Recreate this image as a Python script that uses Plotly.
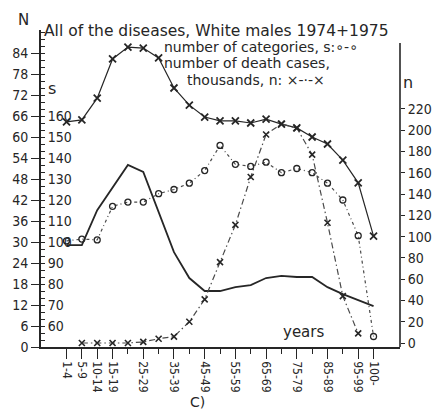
import plotly.graph_objects as go

# ---------------- data ----------------
categories = ["1-4", "5-9", "10-14", "15-19", "20-24", "25-29", "30-34", "35-39",
              "40-44", "45-49", "50-54", "55-59", "60-64", "65-69", "70-74",
              "75-79", "80-84", "85-89", "90-94", "95-99", "100-"]
labeled_categories = ["1-4", "5-9", "10-14", "15-19", "25-29", "35-39", "45-49",
                      "55-59", "65-69", "75-79", "85-89", "95-99", "100-"]

# upper solid curve with x markers (left N scale)
upper_curve = [64.3, 64.9, 71.1, 82.3, 85.7, 85.4, 82.6, 74.0, 69.1, 65.7, 64.6,
               64.6, 64.0, 65.1, 63.7, 62.6, 60.0, 58.0, 53.4, 46.9, 31.7]
# plain solid curve (left N scale)
N_values = [29.1, 29.1, 39.1, 45.4, 52.0, 50.0, 38.3, 27.1, 19.7, 16.0, 16.0,
            17.1, 17.7, 19.7, 20.3, 20.0, 20.0, 17.1, 15.1, 13.4, 11.7]
# number of categories, s (inner left scale)
s_values = [100.5, 101.4, 101.0, 117, 119, 119, 123, 125, 128, 134, 146, 137,
            136, 138, 133, 135, 133, 128, 120, 103, 55]
# number of death cases, thousands, n (right scale)
n_values = [None, 0, 0, 0, 0, 1, 4, 6, 20, 41, 76, 111, 156, 196, 206, 202,
            177, 113, 44, 9, None]

N_ticks = list(range(0, 85, 6))
s_ticks = list(range(60, 161, 10))
n_ticks = list(range(0, 221, 20))

# ---------------- layout geometry ----------------
W, H = 444, 413
ML, MR, MT, MB = 35, 29, 30, 66
PW, PH = W - ML - MR, H - MT - MB

def pxx(x):
    return (x - ML) / PW

def pyy(y):
    return (H - MB - y) / PH

idx = list(range(len(categories)))
lab_idx = [categories.index(c) for c in labeled_categories]

INK = "#262626"
GREY = "#4a4a4a"
TXT = "DejaVu Sans, Liberation Sans, sans-serif"
NUM = "Liberation Sans Narrow, DejaVu Sans Condensed, Liberation Sans, sans-serif"

fig = go.Figure()
fig.add_trace(go.Scatter(x=idx, y=upper_curve, mode="lines+markers", yaxis="y",
                         line=dict(color=INK, width=1.2),
                         marker=dict(symbol="x-thin", size=7, line=dict(color=INK, width=1.8)),
                         showlegend=False))
fig.add_trace(go.Scatter(x=idx, y=N_values, mode="lines", yaxis="y",
                         line=dict(color=INK, width=1.8), showlegend=False))
fig.add_trace(go.Scatter(x=idx, y=s_values, mode="lines+markers", yaxis="y2",
                         line=dict(color=GREY, width=1.2, dash="3px,3px,1px,3px"),
                         marker=dict(symbol="circle-open", size=6, color=INK,
                                     line=dict(color=INK, width=1.3)),
                         showlegend=False, cliponaxis=False))
fig.add_trace(go.Scatter(x=idx, y=n_values, mode="lines+markers", yaxis="y3",
                         line=dict(color=GREY, width=1.2, dash="6px,3px,1.5px,3px"),
                         marker=dict(symbol="x-thin", size=6, line=dict(color=INK, width=1.6)),
                         showlegend=False, connectgaps=False, cliponaxis=False))

fig.update_layout(
    width=W, height=H, autosize=False,
    margin=dict(l=ML, r=MR, t=MT, b=MB, pad=0),
    paper_bgcolor="white", plot_bgcolor="white",
    font=dict(family=NUM, color=INK, size=14),
    xaxis=dict(range=[-27 / 16.25, 353 / 16.25], tickmode="array", tickvals=lab_idx,
               ticktext=labeled_categories, tickangle=90, ticks="outside", ticklen=10,
               tickwidth=1.3, tickcolor=INK, showline=True, linewidth=1.6, linecolor=INK,
               showgrid=False, zeroline=False, tickfont=dict(size=12, family=NUM),
               minor=dict(tickmode="array", tickvals=idx, ticks="outside", ticklen=5,
                          tickwidth=1.2, tickcolor=INK, showgrid=False)),
    yaxis=dict(range=[0, PH / 3.5], tickmode="array", tickvals=N_ticks, ticks="outside",
               ticklen=8, tickwidth=1.3, tickcolor=INK, showline=True, linewidth=1.6,
               linecolor=INK, showgrid=False, zeroline=False,
               tickfont=dict(size=14, family=NUM),
               minor=dict(dtick=2, tick0=0, ticks="inside", ticklen=4, tickwidth=1.1,
                          tickcolor=INK, showgrid=False)),
    yaxis2=dict(range=[50, PH / 3.5 / 0.6 + 50], overlaying="y", anchor="free", position=0,
                side="right", tickmode="array", tickvals=s_ticks, ticks="outside", ticklen=3,
                tickwidth=1.3, tickcolor=INK, showline=False, showgrid=False, zeroline=False,
                tickfont=dict(size=14, family=NUM)),
    yaxis3=dict(range=[(343 - (H - MB)) / 1.064, (343 - MT) / 1.064], overlaying="y",
                anchor="x", side="right", tickmode="array", tickvals=n_ticks, ticks="outside",
                ticklen=4, tickwidth=1.3, tickcolor=INK, showline=False, showgrid=False,
                zeroline=False, tickfont=dict(size=14, family=NUM)),
    shapes=[dict(type="line", xref="paper", yref="paper", x0=1, x1=1, y0=0, y1=pyy(43),
                 line=dict(color=INK, width=1.6))],
)

def note(text, x, y, size=14, xanchor="center", family=TXT):
    fig.add_annotation(text=text, x=pxx(x), y=pyy(y), xref="paper", yref="paper",
                       showarrow=False, xanchor=xanchor, yanchor="middle",
                       font=dict(size=size, family=family, color=INK))

note("All of the diseases, White males 1974+1975", 221, 31, size=15.5)
note("number of categories, s:\u2218-\u2218", 163, 47, size=14, xanchor="left")
note("number of death cases,", 163, 63, size=14, xanchor="left")
note("thousands, n: \u00d7-\u00b7-\u00d7", 187, 80, size=14, xanchor="left")
note("N", 17, 20, size=15)
note("s", 47, 88, size=16)
note("n", 423, 83, size=16)
note("years", 313, 332, size=15)
note("C)", 201, 402, size=14)

fig.write_html("out.html", config={"displayModeBar": False},
               post_script="document.body.style.margin='0px';document.body.style.padding='0px';")
